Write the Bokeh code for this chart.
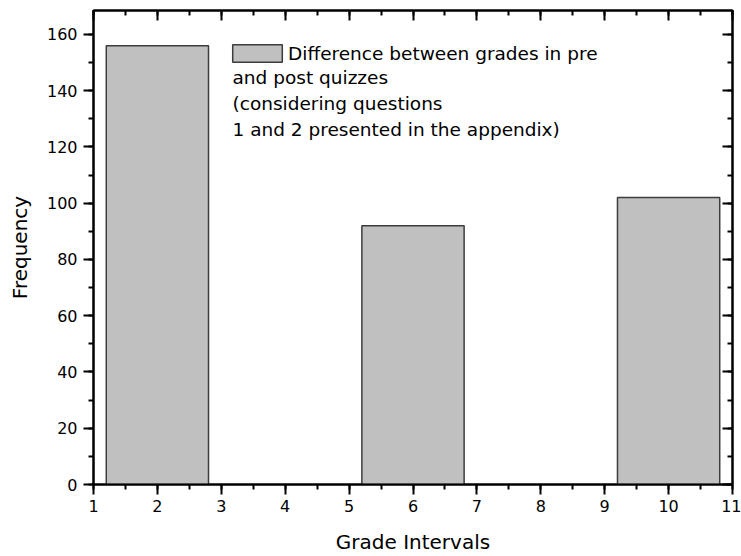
from bokeh.plotting import figure
from bokeh.models import (Range1d, LinearAxis, SingleIntervalTicker, Legend, LegendItem,
                          Label, ColumnDataSource, CustomJSTickFormatter)
from bokeh.embed import file_html
from bokeh.resources import INLINE

# ---- data ----
interval_centers = [2, 6, 10]
frequencies = [156, 92, 102]
bar_width = 1.6
legend_lines = [
    "Difference between grades in pre",
    "and post quizzes",
    "(considering questions",
    "1 and 2 presented in the appendix)",
]
x_label = "Grade Intervals"
y_label = "Frequency"

FONT = "DejaVu Sans"
TICK_FS = "16px"
LEG_FS = "18.5px"

p = figure(width=741, height=556, output_backend="svg", toolbar_location=None,
           x_range=Range1d(1, 11), y_range=Range1d(0, 168.5),
           min_border_left=93, min_border_right=9, min_border_top=10, min_border_bottom=72)
p.grid.visible = False
p.outline_line_color = "black"
p.outline_line_width = 2

src = ColumnDataSource(dict(x=interval_centers, top=frequencies))
bars = p.vbar(x="x", top="top", width=bar_width, source=src,
              fill_color="#c0c0c0", line_color="#3c3c3c", line_width=1.5)

def style(ax, inward=False, labels=True):
    ax.axis_line_color = "black"
    ax.axis_line_width = 2
    ax.major_tick_line_color = "black"
    ax.minor_tick_line_color = "black"
    ax.major_tick_line_width = 2
    ax.minor_tick_line_width = 2
    if inward:
        ax.major_tick_in, ax.major_tick_out = 10, 0
        ax.minor_tick_in, ax.minor_tick_out = 5, 0
    else:
        ax.major_tick_in, ax.major_tick_out = 0, 10
        ax.minor_tick_in, ax.minor_tick_out = 0, 5
    ax.major_label_text_font = FONT
    ax.major_label_text_color = "black"
    ax.major_label_text_font_size = TICK_FS
    if not labels:
        ax.formatter = CustomJSTickFormatter(code="return ''")
        ax.major_label_standoff = 0

xt = lambda: SingleIntervalTicker(interval=1, num_minor_ticks=2)
yt = lambda: SingleIntervalTicker(interval=20, num_minor_ticks=2)

p.xaxis[0].ticker = xt()
p.yaxis[0].ticker = yt()
style(p.xaxis[0])
style(p.yaxis[0])
p.xaxis[0].major_label_standoff = 5
p.yaxis[0].major_label_standoff = 6
p.xaxis[0].axis_label = x_label
p.yaxis[0].axis_label = y_label
for ax in (p.xaxis[0], p.yaxis[0]):
    ax.axis_label_text_font = FONT
    ax.axis_label_text_font_size = "20px"
    ax.axis_label_text_font_style = "normal"
    ax.axis_label_text_color = "black"
p.xaxis[0].axis_label_standoff = 15
p.yaxis[0].axis_label_standoff = 12

top_ax = LinearAxis(ticker=xt())
style(top_ax, inward=True, labels=False)
p.add_layout(top_ax, "above")
right_ax = LinearAxis(ticker=yt())
style(right_ax, inward=True, labels=False)
p.add_layout(right_ax, "right")

legend = Legend(items=[LegendItem(label=legend_lines[0], renderers=[bars])],
                location=(133, 420), padding=0, margin=0, spacing=0,
                glyph_width=62, glyph_height=22, label_standoff=0,
                label_text_font=FONT, label_text_font_size=LEG_FS,
                label_text_color="black",
                border_line_alpha=0, background_fill_alpha=0)
p.add_layout(legend, "center")

for i, line in enumerate(legend_lines[1:]):
    p.add_layout(Label(x=139, y=407 - 26 * i, x_units="screen", y_units="screen",
                       text=line, text_font=FONT, text_font_size=LEG_FS,
                       text_color="black", text_baseline="alphabetic"))

open("out.html", "w").write(file_html(p, INLINE))
